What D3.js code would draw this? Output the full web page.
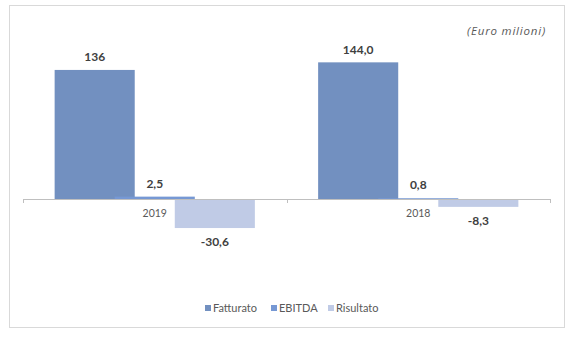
<!DOCTYPE html>
<html><head><meta charset="utf-8">
<script src="https://cdn.jsdelivr.net/npm/d3@7"></script>
<style>body{margin:0;background:#fff;}svg{display:block;}</style>
</head><body>
<svg id="c" width="577" height="337"></svg>
<script>
const categories = ["2019", "2018"];
const seriesNames = ["Fatturato", "EBITDA", "Risultato"];
const fatturato = [136, 144.0];
const ebitda = [2.5, 0.8];
const risultato = [-30.6, -8.3];
const valueLabels = [["136", "144,0"], ["2,5", "0,8"], ["-30,6", "-8,3"]];
const unitLabel = "(Euro milioni)";

const series = [fatturato, ebitda, risultato];
const colors = ["#7290c0", "#7698d4", "#c0cbe6"];

const svg = d3.select("#c");
svg.append("rect").attr("x", 9.5).attr("y", 5.5).attr("width", 555).attr("height", 322)
  .attr("fill", "#fff").attr("stroke", "#d9d9d9").attr("stroke-width", 1);

const x = d3.scaleBand().domain(categories).range([23, 550]).padding(0);
const y = d3.scaleLinear().domain([-40, 150]).range([199 + 40 * 0.949, 199 - 150 * 0.949]);

const bw = x.bandwidth() / 3.29;
const step = bw * 0.75;
const span = bw + 2 * step;

const g = svg.append("g");
series.forEach((vals, si) => {
  vals.forEach((v, ci) => {
    const x0 = x(categories[ci]) + (x.bandwidth() - span) / 2 + si * step;
    g.append("rect")
      .attr("x", x0).attr("width", bw)
      .attr("y", Math.min(y(v), y(0)))
      .attr("height", Math.abs(y(v) - y(0)))
      .attr("fill", colors[si]);
    g.append("text")
      .attr("x", x0 + bw / 2)
      .attr("y", v >= 0 ? y(v) - 13 : y(v) + 14)
      .attr("dy", "0.35em")
      .attr("text-anchor", "middle")
      .attr("font-family", "Lato, 'Open Sans', sans-serif")
      .attr("font-weight", "bold")
      .attr("font-size", 12)
      .attr("fill", "#404040")
      .text(valueLabels[si][ci]);
  });
});

// axis
const axis = d3.axisBottom(x).tickSize(0).tickFormat(() => "");
const ax = svg.append("g").attr("transform", `translate(0,${y(0) + 0.5})`).call(axis);
ax.select(".domain").attr("stroke", "#bfbfbf").attr("d", "M23,0H550");
[23, x(categories[1]), 550].forEach(t => {
  svg.append("line").attr("x1", Math.round(t) + 0.5).attr("x2", Math.round(t) + 0.5)
    .attr("y1", y(0)).attr("y2", y(0) + 4).attr("stroke", "#bfbfbf");
});
categories.forEach(c => {
  svg.append("text").attr("x", x(c) + x.bandwidth() / 2).attr("y", 213)
    .attr("dy", "0.35em").attr("text-anchor", "middle")
    .attr("font-family", "Lato, 'Open Sans', sans-serif").attr("font-size", 10.5)
    .attr("fill", "#595959").text(c);
});

// unit label
svg.append("text").attr("x", 546).attr("y", 31).attr("dy", "0.35em")
  .attr("text-anchor", "end").attr("font-family", "'Open Sans', sans-serif")
  .attr("font-style", "italic").attr("font-size", 11.5).attr("letter-spacing", 0.8)
  .attr("fill", "#595959").text(unitLabel);

// legend
const legX = [205, 271, 328];
seriesNames.forEach((n, i) => {
  svg.append("rect").attr("x", legX[i]).attr("y", 305).attr("width", 6).attr("height", 6).attr("fill", colors[i]);
  svg.append("text").attr("x", legX[i] + 8).attr("y", 308.5).attr("dy", "0.35em")
    .attr("font-family", "Lato, 'Open Sans', sans-serif").attr("font-size", 11)
    .attr("fill", "#595959").text(n);
});
</script>
</body></html>
